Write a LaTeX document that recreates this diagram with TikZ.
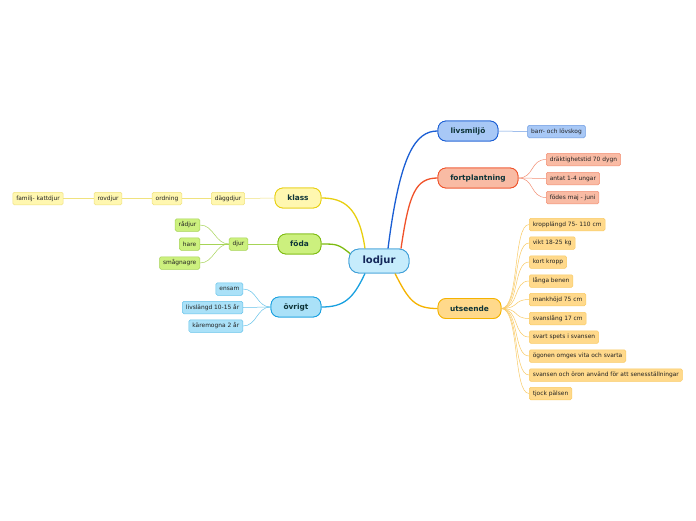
\documentclass[tikz,border=0pt]{standalone}
\usepackage{fontspec}
\setmainfont{DejaVu Sans}
\usetikzlibrary{calc}
\definecolor{txt}{HTML}{0E3438}
\definecolor{lodT}{HTML}{14285A}
\definecolor{subtxt}{HTML}{222222}
% center
\definecolor{lodF}{HTML}{C6ECFC}\definecolor{lodD}{HTML}{3E9FD8}
% livsmiljo
\definecolor{livF}{HTML}{A8C8F6}\definecolor{livD}{HTML}{1A5ED4}\definecolor{livS}{HTML}{6E9CE2}
% fortplantning
\definecolor{forF}{HTML}{F9BBA4}\definecolor{forD}{HTML}{F0522A}\definecolor{forS}{HTML}{F39075}
% utseende
\definecolor{utsF}{HTML}{FFD98B}\definecolor{utsD}{HTML}{F5B300}\definecolor{utsS}{HTML}{F9CB66}
% klass
\definecolor{klaF}{HTML}{FFF7B0}\definecolor{klaD}{HTML}{E8CF10}\definecolor{klaS}{HTML}{F0E27E}
% foda
\definecolor{fodF}{HTML}{CCF07E}\definecolor{fodD}{HTML}{7DBB10}\definecolor{fodS}{HTML}{A6D456}
% ovrigt
\definecolor{ovrF}{HTML}{AAE1F8}\definecolor{ovrD}{HTML}{18A0E0}\definecolor{ovrS}{HTML}{66C3EA}
\tikzset{
  centre/.style={draw=lodD, fill=lodF, line width=0.8pt, rounded corners=10pt,
    minimum width=60pt, minimum height=24pt, font=\fontsize{10}{11}\selectfont\bfseries, text=lodT},
  topic/.style={line width=0.8pt, rounded corners=8pt, minimum height=20pt,
    inner xsep=8pt, font=\fontsize{7.4}{8}\selectfont\bfseries, text=txt},
  leaf/.style={line width=0.5pt, rounded corners=1.5pt, minimum height=12.5pt,
    inner xsep=3.5pt, inner ysep=0pt, font=\fontsize{5.9}{6.5}\selectfont, text=subtxt},
  mainline/.style={line width=1.3pt},
  subline/.style={line width=0.5pt},
}
\begin{document}
\begin{tikzpicture}[x=1pt,y=-1pt]
\useasboundingbox (0,0) rectangle (696,520);
\fill[white] (0,0) rectangle (696,520);

% ---------- nodes ----------
\node[centre] (lod) at (379,261) {lodjur};

\node[topic, draw=livD, fill=livF, minimum width=60pt] (liv) at (468,131) {livsmiljö};
\node[leaf, draw=livS, fill=livF] (liv1) at (556.5,131.5) {barr- och lövskog};

\node[topic, draw=forD, fill=forF, minimum width=80pt] (for) at (478,178) {fortplantning};
\node[leaf, draw=forS, fill=forF, anchor=west] (for1) at (546,159.5) {dräktighetstid 70 dygn};
\node[leaf, draw=forS, fill=forF, anchor=west] (for2) at (546,178.5) {antat 1-4 ungar};
\node[leaf, draw=forS, fill=forF, anchor=west] (for3) at (546,197.5) {födes maj - juni};

\node[topic, draw=utsD, fill=utsF, minimum width=63pt] (uts) at (469.5,308.5) {utseende};
\node[leaf, draw=utsS, fill=utsF, anchor=west] (u1) at (529,224.5) {kropplängd 75- 110 cm};
\node[leaf, draw=utsS, fill=utsF, anchor=west] (u2) at (529,243) {vikt 18-25 kg};
\node[leaf, draw=utsS, fill=utsF, anchor=west] (u3) at (529,262) {kort kropp};
\node[leaf, draw=utsS, fill=utsF, anchor=west] (u4) at (529,281) {långa benen};
\node[leaf, draw=utsS, fill=utsF, anchor=west] (u5) at (529,299.5) {mankhöjd 75 cm};
\node[leaf, draw=utsS, fill=utsF, anchor=west] (u6) at (529,318.5) {svanslång 17 cm};
\node[leaf, draw=utsS, fill=utsF, anchor=west] (u7) at (529,337) {svart spets i svansen};
\node[leaf, draw=utsS, fill=utsF, anchor=west] (u8) at (529,356) {ögonen omges vita och svarta};
\node[leaf, draw=utsS, fill=utsF, anchor=west] (u9) at (529,375) {svansen och öron använd för att senesställningar};
\node[leaf, draw=utsS, fill=utsF, anchor=west] (u10) at (529,393.5) {tjock pälsen};

\node[topic, draw=klaD, fill=klaF, minimum width=46pt] (kla) at (298,198) {klass};
\node[leaf, draw=klaS, fill=klaF] (k1) at (228,198.5) {däggdjur};
\node[leaf, draw=klaS, fill=klaF] (k2) at (167,198.5) {ordning};
\node[leaf, draw=klaS, fill=klaF] (k3) at (108,198.5) {rovdjur};
\node[leaf, draw=klaS, fill=klaF] (k4) at (38,198.5) {familj- kattdjur};

\node[topic, draw=fodD, fill=fodF, minimum width=43pt] (fod) at (299.5,244) {föda};
\node[leaf, draw=fodS, fill=fodF] (f1) at (238.5,244) {djur};
\node[leaf, draw=fodS, fill=fodF, anchor=east] (f2) at (200,225) {rådjur};
\node[leaf, draw=fodS, fill=fodF, anchor=east] (f3) at (200,244) {hare};
\node[leaf, draw=fodS, fill=fodF, anchor=east] (f4) at (200,263) {smågnagre};

\node[topic, draw=ovrD, fill=ovrF, minimum width=50pt] (ovr) at (296,307) {övrigt};
\node[leaf, draw=ovrS, fill=ovrF, anchor=east] (o1) at (243,289) {ensam};
\node[leaf, draw=ovrS, fill=ovrF, anchor=east] (o2) at (243,307.5) {livslängd 10-15 år};
\node[leaf, draw=ovrS, fill=ovrF, anchor=east] (o3) at (243,326) {käremogna 2 år};

% ---------- main connectors ----------
\draw[mainline, livD] ($(lod.north)+(9,0)$) .. controls +(12,-95) and +(-22,0) .. (liv.west);
\draw[mainline, forD] ($(lod.north)+(22,0)$) .. controls +(8,-55) and +(-22,0) .. (for.west);
\draw[mainline, utsD] ($(lod.south)+(16,0)$) .. controls +(14,28) and +(-22,0) .. (uts.west);
\draw[mainline, klaD] ($(lod.north)+(-14,0)$) .. controls +(-6,-42) and +(22,0) .. (kla.east);
\draw[mainline, fodD] ($(lod.west)+(2,-7)$) .. controls +(-12,-10) and +(15,0) .. (fod.east);
\draw[mainline, ovrD] ($(lod.south)+(-14,0)$) .. controls +(-12,26) and +(22,0) .. (ovr.east);

% ---------- sub connectors ----------
\draw[subline, livS] (liv.east) -- (liv1.west);
\foreach \c in {for1,for2,for3}
  \draw[subline, forS] (for.east) .. controls +(16,0) and +(-16,0) .. (\c.west);
\foreach \c in {u1,u2,u3,u4,u5,u6,u7,u8,u9,u10}
  \draw[subline, utsS] (uts.east) .. controls +(18,0) and +(-16,0) .. (\c.west);
\draw[subline, klaS] (kla.west) -- (k1.east);
\draw[subline, klaS] (k1.west) -- (k2.east);
\draw[subline, klaS] (k2.west) -- (k3.east);
\draw[subline, klaS] (k3.west) -- (k4.east);
\draw[subline, fodS] (fod.west) -- (f1.east);
\foreach \c in {f2,f3,f4}
  \draw[subline, fodS] (f1.west) .. controls +(-14,0) and +(14,0) .. (\c.east);
\foreach \c in {o1,o2,o3}
  \draw[subline, ovrS] (ovr.west) .. controls +(-14,0) and +(14,0) .. (\c.east);

% redraw nodes over connectors
\node[centre] at (lod) {lodjur};
\node[topic, draw=livD, fill=livF, minimum width=60pt] at (liv) {livsmiljö};
\node[topic, draw=forD, fill=forF, minimum width=80pt] at (for) {fortplantning};
\node[topic, draw=utsD, fill=utsF, minimum width=63pt] at (uts) {utseende};
\node[topic, draw=klaD, fill=klaF, minimum width=46pt] at (kla) {klass};
\node[topic, draw=fodD, fill=fodF, minimum width=43pt] at (fod) {föda};
\node[topic, draw=ovrD, fill=ovrF, minimum width=50pt] at (ovr) {övrigt};
\end{tikzpicture}
\end{document}
